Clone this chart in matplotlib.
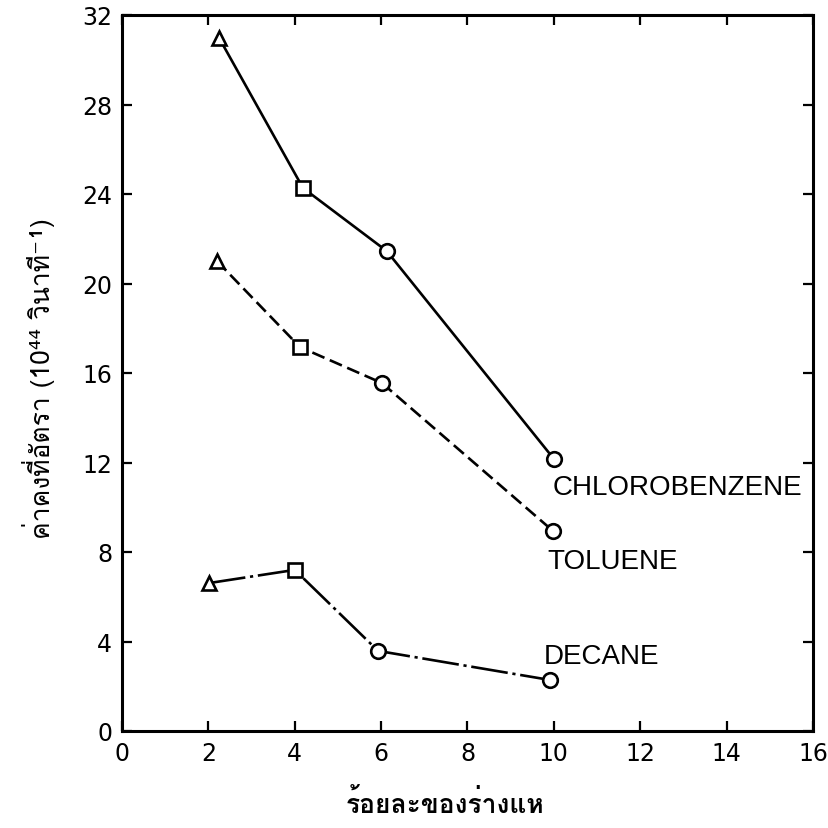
import numpy as np
import matplotlib
matplotlib.use('Agg')
import matplotlib.pyplot as plt
from matplotlib import font_manager
from matplotlib.ft2font import FT2Font

# data
x_chloro = [2.25, 4.19, 6.13, 10.0]
y_chloro = [30.97, 24.27, 21.45, 12.16]
x_toluene = [2.2, 4.12, 6.02, 9.98]
y_toluene = [21.0, 17.16, 15.55, 8.94]
x_decane = [2.01, 4.0, 5.93, 9.91]
y_decane = [6.61, 7.2, 3.58, 2.28]
markers = ['^', 's', 'o', 'o']

xticks = np.arange(0, 17, 2)
yticks = np.arange(0, 33, 4)


def find_thai_font():
    # look for any installed font that has Thai glyphs
    for f in font_manager.fontManager.ttflist:
        try:
            cm = FT2Font(f.fname).get_charmap()
        except Exception:
            continue
        if ord('ร') in cm and ord('่') in cm:
            return f.name
    return None


thai = find_thai_font()
print('thai font:', thai)
fams = ['Liberation Sans', 'DejaVu Sans']
if thai:
    fams = [thai, 'DejaVu Sans']

plt.rcParams['font.family'] = ['Liberation Sans', 'DejaVu Sans']

fig = plt.figure(figsize=(8.29, 8.29), dpi=100)
ax = fig.add_axes([122 / 829, 97 / 829, 691 / 829, 716 / 829])


def draw(xs, ys, ls):
    ax.plot(xs, ys, color='black', lw=1.9, ls=ls, zorder=2)
    for xx, yy, m in zip(xs, ys, markers):
        ax.plot(xx, yy, marker=m, ms=10.5, mfc='white', mec='black', mew=1.9,
                ls='none', zorder=3)


draw(x_chloro, y_chloro, '-')
draw(x_toluene, y_toluene, (0, (5, 2.2)))
draw(x_decane, y_decane, (0, (14, 1.8, 1.2, 1.8)))

ax.text(9.98, 10.9, 'CHLOROBENZENE', fontsize=20, ha='left', va='center')
ax.text(9.86, 7.6, 'TOLUENE', fontsize=20, ha='left', va='center')
ax.text(9.77, 3.35, 'DECANE', fontsize=20, ha='left', va='center')

ax.set_xlim(0, 16)
ax.set_ylim(0, 32)
ax.set_xticks(xticks)
ax.set_yticks(yticks)
ax.tick_params(direction='in', top=True, right=True, length=7, width=1.6,
               labelsize=17, pad=7)
for lab in ax.get_xticklabels() + ax.get_yticklabels():
    lab.set_family('DejaVu Sans')
for s in ax.spines.values():
    s.set_linewidth(2.2)

ax.set_xlabel('ร้อยละของร่างแห', fontsize=19, family=fams, fontweight='bold')
ax.xaxis.set_label_coords((445 - 122) / 691, -0.08)
ax.set_ylabel('ค่าคงที่อัตรา (10⁴⁴ วินาที⁻¹)', fontsize=19, family=fams)
ax.yaxis.set_label_coords(-0.097, 0.493)

fig.savefig('out.png', dpi=100, facecolor='white')
